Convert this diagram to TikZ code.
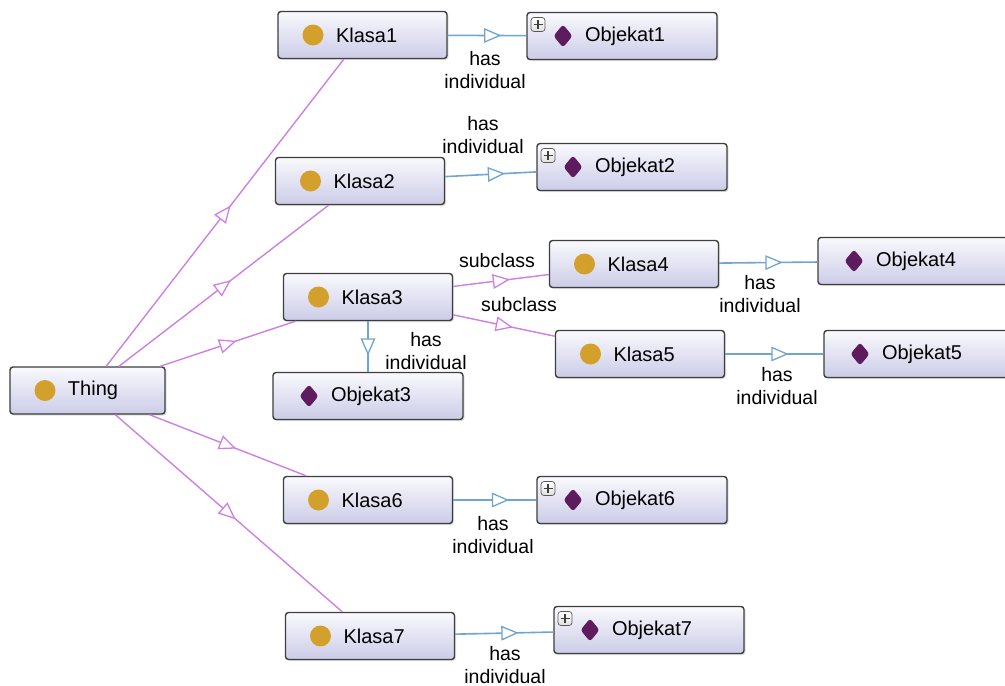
\documentclass[tikz,border=0pt]{standalone}
\usepackage{fontspec}
\setmainfont{Liberation Sans}
\usetikzlibrary{decorations.markings,shadows}
\definecolor{gold}{RGB}{212,160,44}
\definecolor{purp}{RGB}{94,27,94}
\definecolor{vline}{RGB}{204,128,228}
\definecolor{bline}{RGB}{112,164,210}
\definecolor{boxborder}{RGB}{62,62,62}
\definecolor{shadetop}{RGB}{249,249,253}
\definecolor{shadebot}{RGB}{204,204,232}
\newcommand\CIcon{\fill[gold] ([xshift=35pt]path picture bounding box.west) circle[radius=10.5pt];}
\newcommand\ODiamond{\fill[purp] ([xshift=36pt,yshift=11.5pt]path picture bounding box.west) -- ++(9.5pt,-11.5pt) -- ++(-9.5pt,-11.5pt) -- ++(-9.5pt,11.5pt) -- cycle;}
\newcommand\OPlus{\draw[draw=gray!70!black, line width=0.7pt, top color=white, bottom color=gray!25] ([xshift=4pt,yshift=-5pt]path picture bounding box.north west) rectangle ++(14pt,-14pt);
 \draw[line width=1.5pt] ([xshift=11pt,yshift=-12pt]path picture bounding box.north west) +(-4.5pt,0) -- +(4.5pt,0) +(0,-4.5pt) -- +(0,4.5pt);}
\tikzset{
 box/.style={draw=boxborder, line width=1.4pt, rounded corners=3pt,
   top color=shadetop, bottom color=shadebot, minimum height=47pt,
   inner xsep=0pt, inner ysep=0pt, text width=#1, align=left,
   font=\fontsize{20}{24}\selectfont,
   drop shadow={shadow xshift=1.5pt,shadow yshift=-1.5pt,opacity=0.25},
   execute at begin node={\noindent\hspace*{58pt}}},
 cls/.style={box=#1, path picture={\CIcon}},
 cls/.default=169pt,
 obj/.style={box=190pt, path picture={\ODiamond}},
 objp/.style={box=190pt, path picture={\ODiamond\OPlus}},
 subline/.style={draw=vline, line width=1.4pt},
 indline/.style={draw=bline, line width=1.6pt},
 midtri/.style={decoration={markings, mark=at position 0.5 with {\draw[#1, line width=1.3pt, fill=white] (7.5pt,0) -- (-7.5pt,6.5pt) -- (-7.5pt,-6.5pt) -- cycle;}}, postaction={decorate}},
 lbl/.style={font=\fontsize{19.5}{23.5}\selectfont, align=center, inner sep=0pt},
}
\begin{document}
\begin{tikzpicture}[x=1pt,y=-1pt]
\useasboundingbox (0,0) rectangle (1005,686);
\clip (0,0) rectangle (1005,686);
\node[cls=155pt] (thing) at (87.5,390.5) {Thing};
\node[cls] (k1) at (362.5,35) {Klasa1};
\node[cls] (k2) at (360,181) {Klasa2};
\node[cls] (k3) at (368,297) {Klasa3};
\node[cls] (k4) at (634,264) {Klasa4};
\node[cls] (k5) at (640,354) {Klasa5};
\node[cls] (k6) at (368,500) {Klasa6};
\node[cls] (k7) at (370,636) {Klasa7};
\node[objp] (o1) at (622,36) {Objekat1};
\node[objp] (o2) at (632,167) {Objekat2};
\node[obj] (o3) at (368,396) {Objekat3};
\node[obj] (o4) at (913,261) {Objekat4};
\node[obj] (o5) at (919,354) {Objekat5};
\node[objp] (o6) at (632,500) {Objekat6};
\node[objp] (o7) at (649,630) {Objekat7};
% subclass edges
\foreach \a/\b in {thing/k1,thing/k2,thing/k3,thing/k6,thing/k7,k3/k4,k3/k5}{
  \draw[subline] (\a) -- (\b);
  \path[midtri=vline] (\a.center) -- (\b.center);
}
% has individual edges
\foreach \a/\b in {k1/o1,k2/o2,k3/o3,k4/o4,k5/o5,k6/o6,k7/o7}{
  \draw[indline] (\a) -- (\b);
  \path[midtri=bline] (\a.center) -- (\b.center);
}
\node[lbl] (l1) at (485,70) {has\\individual};
\node[lbl] (l2) at (483,135) {has\\individual};
\node[lbl] (l3) at (426,351) {has\\individual};
\node[lbl] (l4) at (760,294) {has\\individual};
\node[lbl] (l5) at (777,386) {has\\individual};
\node[lbl] (l6) at (493,535) {has\\individual};
\node[lbl] (l7) at (505,665) {has\\individual};
\node[lbl] (s1) at (497,261) {subclass};
\node[lbl] (s2) at (519,305) {subclass};
\end{tikzpicture}
\end{document}
